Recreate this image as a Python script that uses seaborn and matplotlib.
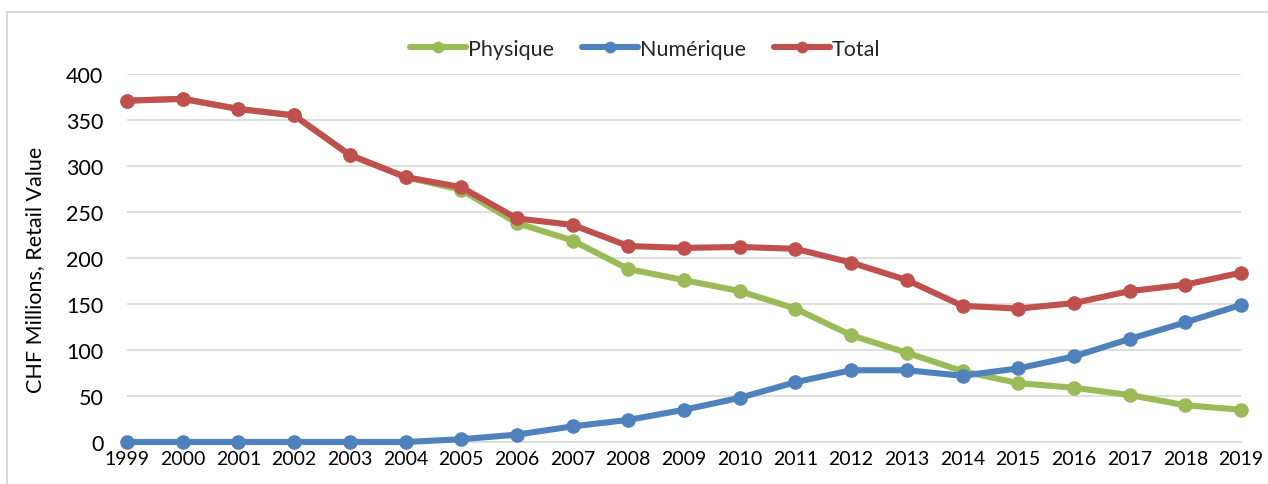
import matplotlib
matplotlib.use("Agg")
import matplotlib.pyplot as plt
from matplotlib.patches import Rectangle
import seaborn as sns
import pandas as pd

years = list(range(1999, 2020))
physique = [371, 373, 362, 355, 312, 288, 274, 238, 219, 188, 176, 164, 145, 116, 97, 77, 64, 59, 51, 40, 35]
numerique = [0, 0, 0, 0, 0, 0, 3, 8, 17, 24, 35, 48, 65, 78, 78, 72, 80, 93, 112, 130, 149]
total = [371, 373, 362, 355, 312, 288, 277, 243, 236, 213, 211, 212, 210, 195, 176, 148, 145, 151, 164, 171, 184]
series_names = ["Physique", "Numérique", "Total"]
colors = ["#9BBB59", "#4F81BD", "#C0504D"]
y_ticks = [0, 50, 100, 150, 200, 250, 300, 350, 400]
y_label = "CHF Millions, Retail Value"

df = pd.DataFrame({
    "year": years * 3,
    "value": physique + numerique + total,
    "series": [series_names[0]] * len(years) + [series_names[1]] * len(years) + [series_names[2]] * len(years),
})

sns.set_theme(style="white")
plt.rcParams["font.family"] = ["Lato", "DejaVu Sans"]
FS = 15.5

W, H = 1268, 485
fig = plt.figure(figsize=(W / 100, H / 100), dpi=100)
ax = fig.add_axes([127 / W, 1 - 443 / H, (1241 - 127) / W, (443 - 75) / H])

sns.lineplot(data=df, x="year", y="value", hue="series", hue_order=series_names,
             palette=colors, marker="o", markersize=10.5, markeredgewidth=0,
             linewidth=4.4, ax=ax, clip_on=False, legend=False, zorder=5)

ax.set_xlim(1999, 2019)
ax.set_ylim(0, 400)
ax.set_xticks(years)
ax.set_xticklabels([str(y) for y in years])
ax.set_yticks(y_ticks)
ax.set_yticklabels([str(v) for v in y_ticks])
ax.grid(axis="y", color="#d9d9d9", linewidth=1.2)
ax.grid(axis="x", visible=False)
ax.set_axisbelow(True)
for s in ["top", "right", "left"]:
    ax.spines[s].set_visible(False)
ax.spines["bottom"].set_color("#d9d9d9")
ax.spines["bottom"].set_linewidth(1.2)
ax.spines["bottom"].set_zorder(1)
ax.tick_params(axis="x", direction="inout", length=9, width=1.2, color="#d9d9d9",
               labelsize=14, pad=1, labelcolor="black")
ax.tick_params(axis="y", length=0, labelsize=15.5, pad=17, labelcolor="black")
ax.set_xlabel("")
ax.set_ylabel(y_label, fontsize=FS, color="black")
ax.yaxis.set_label_coords(-(127 - 45) / (1241 - 127), (443 - 270) / (443 - 75))

handles = [plt.Line2D([], [], color=c, lw=4.4, marker="o", markersize=8.5, markeredgewidth=0)
           for c in colors]
fig.legend(handles, series_names, loc="center", bbox_to_anchor=(645 / W, 1 - 50 / H),
           ncol=3, frameon=False, fontsize=FS, handlelength=2.6, handletextpad=0.1,
           columnspacing=1.3)

fig.patches.append(Rectangle((6.5 / W, -0.1), 1.2, 1.1 - 12.5 / H, transform=fig.transFigure,
                             fill=False, edgecolor="#d9d9d9", linewidth=1.5))

fig.savefig("out.png", dpi=100)
